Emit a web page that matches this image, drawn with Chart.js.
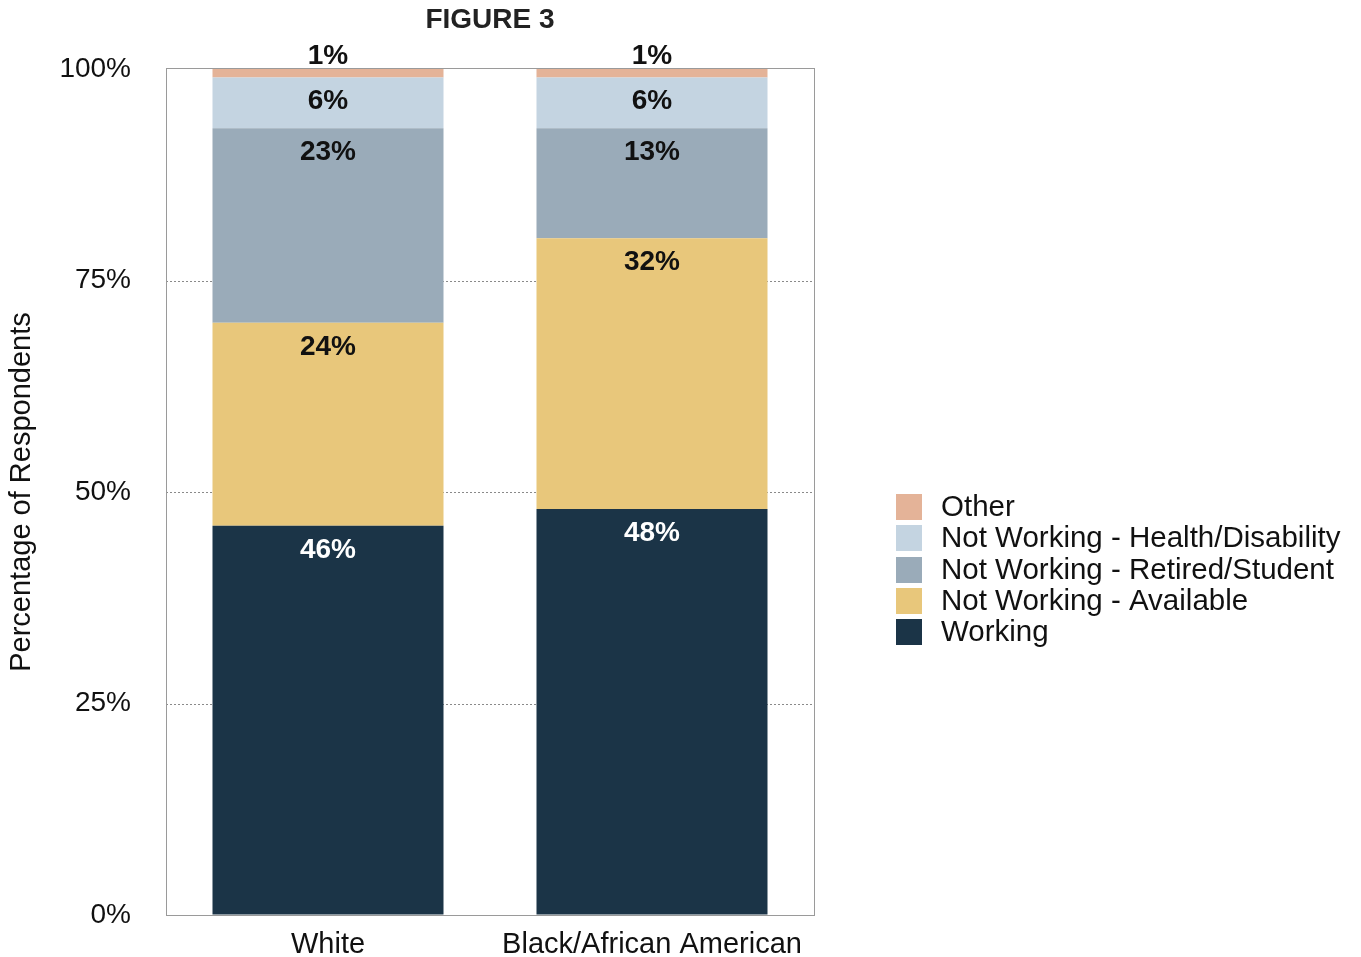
<!DOCTYPE html>
<html>
<head>
<meta charset="utf-8">
<script src="https://cdn.jsdelivr.net/npm/chart.js@4.4.1/dist/chart.umd.min.js"></script>
<style>
  html, body { margin: 0; padding: 0; background: #ffffff; }
  #wrap { width: 1361px; height: 957px; }
</style>
</head>
<body>
<div id="wrap"><canvas id="chart" width="1361" height="957"></canvas></div>
<script>
// Employment status by race (percent of respondents)
const categories = ['White', 'Black/African American'];
const working         = [46, 48];
const notAvailable    = [24, 32];
const retiredStudent  = [23, 13];
const healthDisability = [6, 6];
const other           = [1, 1];
const yTicks = [0, 25, 50, 75, 100];

const FONT = "'Liberation Sans', Arial, Helvetica, sans-serif";

const series = [
  { label: 'Working', data: working, color: '#1b3447', text: '#ffffff' },
  { label: 'Not Working - Available', data: notAvailable, color: '#e8c77b', text: '#111111' },
  { label: 'Not Working - Retired/Student', data: retiredStudent, color: '#9aabb9', text: '#111111' },
  { label: 'Not Working - Health/Disability', data: healthDisability, color: '#c4d4e1', text: '#111111' },
  { label: 'Other', data: other, color: '#e4b398', text: '#111111' }
];

const frame = {
  id: 'frame',
  beforeDatasetsDraw(chart) {
    const { ctx, chartArea: a, scales: { y } } = chart;
    ctx.save();
    ctx.strokeStyle = '#8a8a8a';
    ctx.lineWidth = 1;
    ctx.setLineDash([2, 2]);
    yTicks.forEach(v => {
      if (v === 0 || v === 100) return;
      const py = Math.round(y.getPixelForValue(v)) + 0.5;
      ctx.beginPath();
      ctx.moveTo(a.left, py);
      ctx.lineTo(a.right, py);
      ctx.stroke();
    });
    ctx.restore();
  },
  afterDatasetsDraw(chart) {
    const { ctx, chartArea: a } = chart;
    ctx.save();
    ctx.strokeStyle = '#9a9a9a';
    ctx.lineWidth = 1;
    ctx.strokeRect(Math.round(a.left) + 0.5, Math.round(a.top) - 0.5,
                   Math.round(a.right - a.left), Math.round(a.bottom - a.top) + 1);

    // segment value labels
    ctx.font = 'bold 28px ' + FONT;
    ctx.textAlign = 'center';
    ctx.textBaseline = 'middle';
    chart.data.datasets.forEach((ds, di) => {
      const meta = chart.getDatasetMeta(di);
      meta.data.forEach((bar, i) => {
        const v = ds.data[i];
        ctx.fillStyle = ds.labelColor;
        const top = Math.min(bar.y, bar.base);
        const bottom = Math.max(bar.y, bar.base);
        const ly = ds.label === 'Other' ? bottom - 21 : top + 24;
        ctx.fillText(v + '%', bar.x, ly);
      });
    });

    // title
    ctx.fillStyle = '#222222';
    ctx.font = 'bold 28px ' + FONT;
    ctx.fillText('FIGURE 3', (a.left + a.right) / 2, 20);

    // legend (top entry first)
    const items = chart.data.datasets.slice().reverse();
    ctx.textAlign = 'left';
    ctx.font = '29.5px ' + FONT;
    items.forEach((ds, k) => {
      const cy = 507 + k * 31.3;
      ctx.fillStyle = ds.backgroundColor;
      ctx.fillRect(896, Math.round(cy - 13), 26, 26);
      ctx.fillStyle = '#111111';
      ctx.fillText(ds.label, 941, cy + 1);
    });
    ctx.restore();
  }
};

new Chart(document.getElementById('chart'), {
  type: 'bar',
  data: {
    labels: categories,
    datasets: series.map(s => ({
      label: s.label,
      data: s.data,
      backgroundColor: s.color,
      labelColor: s.text,
      borderWidth: 0,
      categoryPercentage: 1,
      barPercentage: 0.713
    }))
  },
  options: {
    responsive: false,
    animation: false,
    devicePixelRatio: 1,
    layout: { padding: { left: 0, top: 69, right: 547, bottom: 0 } },
    plugins: {
      legend: { display: false },
      tooltip: { enabled: false }
    },
    scales: {
      x: {
        stacked: true,
        grid: { display: false, drawTicks: false },
        border: { display: false },
        ticks: { color: '#111111', font: { family: FONT, size: 29 }, padding: 13 },
        afterFit(s) { s.height = 42; }
      },
      y: {
        stacked: true,
        min: 0,
        max: 100,
        afterBuildTicks(s) { s.ticks = yTicks.map(v => ({ value: v })); },
        grid: {
          display: true,
          drawOnChartArea: false,
          drawTicks: true,
          tickLength: 35,
          color: 'rgba(0,0,0,0)'
        },
        border: { display: false },
        ticks: {
          color: '#111111',
          font: { family: FONT, size: 28 },
          padding: 0,
          callback: v => v + '%'
        },
        title: {
          display: true,
          text: 'Percentage of Respondents',
          color: '#111111',
          font: { family: FONT, size: 29 },
          padding: { top: 5, bottom: 0 }
        },
        afterFit(s) { s.width = 166; }
      }
    }
  },
  plugins: [frame]
});
</script>
</body>
</html>
